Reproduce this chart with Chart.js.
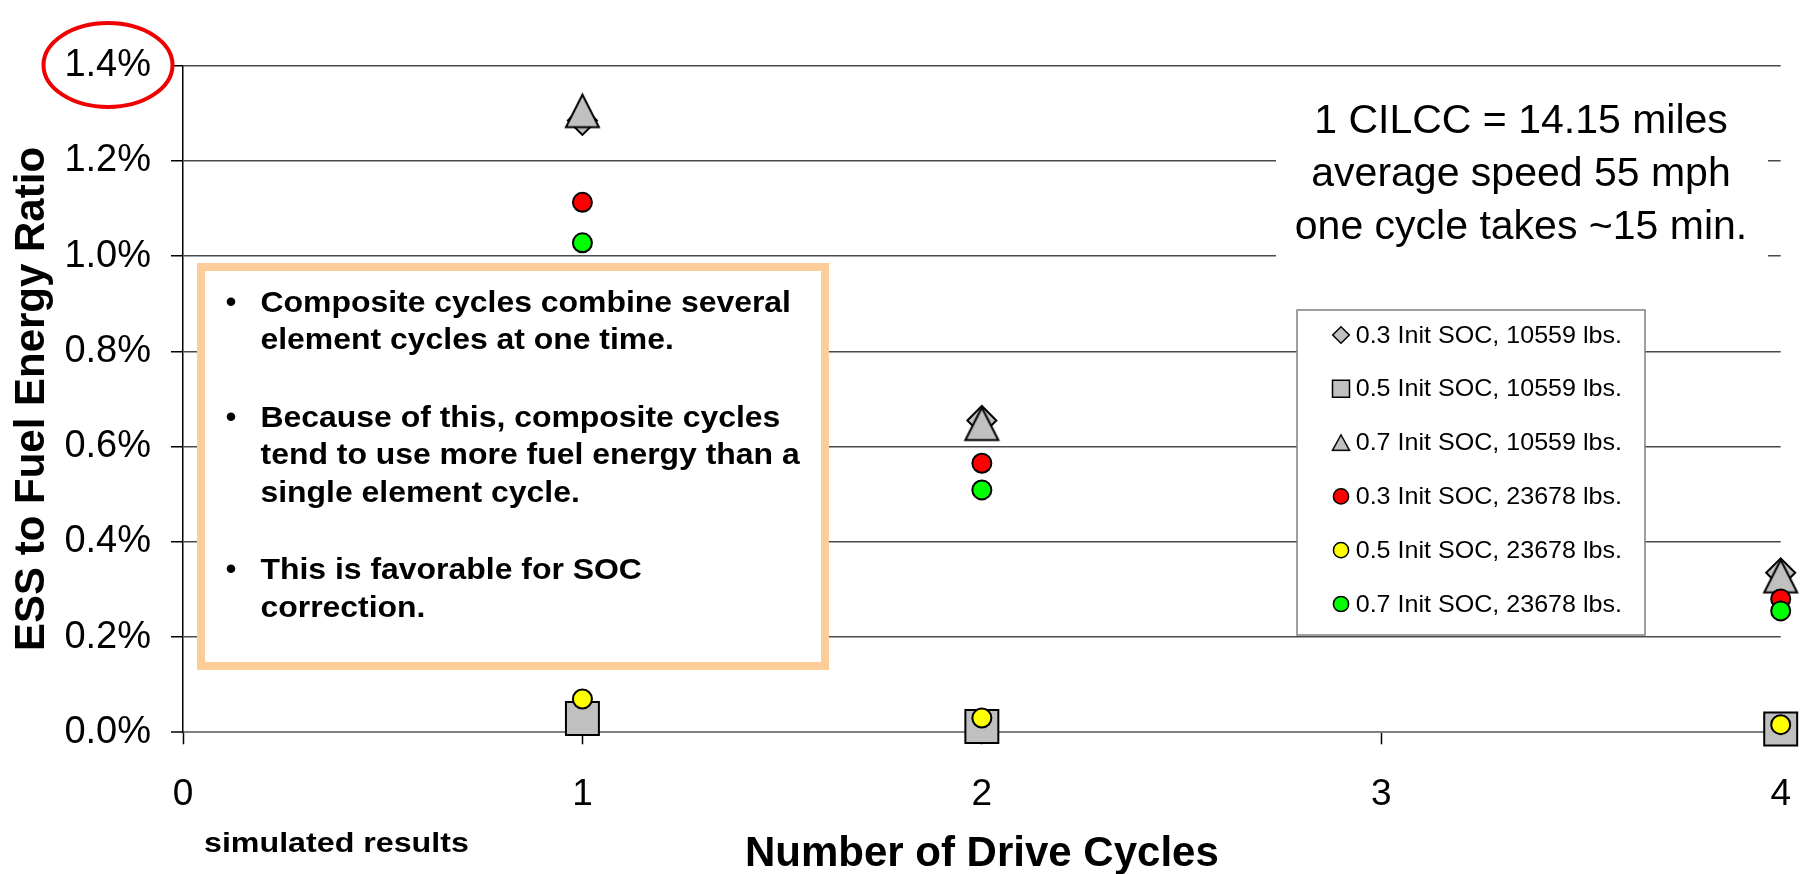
<!DOCTYPE html>
<html>
<head>
<meta charset="utf-8">
<script src="https://cdn.jsdelivr.net/npm/chart.js@4.4.1/dist/chart.umd.min.js"></script>
<style>
  html, body { margin: 0; padding: 0; background: #ffffff; }
  #wrap { width: 1806px; height: 874px; position: relative; }
</style>
</head>
<body>
<div id="wrap"><canvas id="chart" width="1806" height="874"></canvas></div>
<script>
// Drive-cycle counts and ESS-to-fuel energy ratios (percent)
const cycles = [1, 2, 4];
const soc03Light = [1.285, 0.655, 0.335];
const soc05Light = [0.029, 0.012, 0.007];
const soc07Light = [1.305, 0.648, 0.328];
const soc03Heavy = [1.113, 0.565, 0.280];
const soc05Heavy = [0.070, 0.030, 0.016];
const soc07Heavy = [1.028, 0.509, 0.255];

const seriesLabels = [
  '0.3 Init SOC, 10559 lbs.',
  '0.5 Init SOC, 10559 lbs.',
  '0.7 Init SOC, 10559 lbs.',
  '0.3 Init SOC, 23678 lbs.',
  '0.5 Init SOC, 23678 lbs.',
  '0.7 Init SOC, 23678 lbs.'
];

const yTickValues = [0, 0.2, 0.4, 0.6, 0.8, 1.0, 1.2, 1.4];
const xTickValues = [0, 1, 2, 3, 4];

const cycleNote = ['1 CILCC = 14.15 miles', 'average speed 55 mph', 'one cycle takes ~15 min.'];
const bulletPoints = [
  ['Composite cycles combine several', 'element cycles at one time.'],
  ['Because of this, composite cycles', 'tend to use more fuel energy than a', 'single element cycle.'],
  ['This is favorable for SOC', 'correction.']
];
const footNote = 'simulated results';

const FONT = "'Liberation Sans', Arial, Helvetica, sans-serif";
const GREY = '#c0c0c0';

// Excel-style isosceles triangle marker (centred on its bounding box)
function triangleMarker(w, h, lw) {
  const pad = lw + 2;
  const c = document.createElement('canvas');
  c.width = Math.round(w + 2 * pad);
  c.height = Math.round(h + 2 * pad);
  const g = c.getContext('2d');
  const cx = c.width / 2, top = (c.height - h) / 2;
  g.beginPath();
  g.moveTo(cx, top);
  g.lineTo(cx + w / 2, top + h);
  g.lineTo(cx - w / 2, top + h);
  g.closePath();
  g.fillStyle = GREY;
  g.fill();
  g.lineWidth = lw;
  g.lineJoin = 'miter';
  g.strokeStyle = '#000';
  g.stroke();
  return c;
}
const bigTriangle = triangleMarker(33, 32.5, 2);
const smallTriangle = triangleMarker(17, 15.5, 1.5);

function points(arr) { return cycles.map((x, i) => ({ x: x, y: arr[i] })); }

const seriesValues = [soc03Light, soc05Light, soc07Light, soc03Heavy, soc05Heavy, soc07Heavy];
const seriesStyle = [
  { style: 'rectRot', r: 14.5, fill: GREY, legendStyle: 'rectRot', legendR: 8.3 },
  { style: 'rect', r: 23.3, fill: GREY, legendStyle: 'rect', legendR: 12 },
  { style: bigTriangle, r: 17, fill: GREY, legendStyle: smallTriangle, legendR: 9 },
  { style: 'circle', r: 9.5, fill: '#ff0000', legendStyle: 'circle', legendR: 7.6 },
  { style: 'circle', r: 9.5, fill: '#ffff00', legendStyle: 'circle', legendR: 7.6 },
  { style: 'circle', r: 9.5, fill: '#00ff00', legendStyle: 'circle', legendR: 7.6 }
];

const datasets = seriesValues.map((vals, i) => ({
  label: seriesLabels[i],
  data: points(vals),
  pointStyle: seriesStyle[i].style,
  pointRadius: seriesStyle[i].r,
  pointBackgroundColor: seriesStyle[i].fill,
  pointBorderColor: '#000000',
  pointBorderWidth: 2,
  showLine: false,
  clip: false,
  order: seriesValues.length - i,
  legendStyle: seriesStyle[i].legendStyle,
  legendR: seriesStyle[i].legendR
}));

function stretchedText(ctx, text, x, y, sx) {
  ctx.save();
  ctx.translate(x, y);
  ctx.scale(sx, 1);
  ctx.fillText(text, 0, 0);
  ctx.restore();
}

// Text boxes, legend and highlight ring drawn on top of the grid
const overlays = {
  id: 'overlays',
  beforeDatasetsDraw(chart) {
    const ctx = chart.ctx;
    ctx.save();

    // bullet box
    ctx.fillStyle = '#ffffff';
    ctx.fillRect(197, 263, 632, 407);
    ctx.strokeStyle = '#fccc99';
    ctx.lineWidth = 8;
    ctx.strokeRect(201, 267, 624, 399);
    ctx.fillStyle = '#000';
    ctx.font = 'bold 30px ' + FONT;
    ctx.textBaseline = 'alphabetic';
    let base = 311.7;
    bulletPoints.forEach((para) => {
      ctx.textAlign = 'center';
      ctx.fillText('\u2022', 231, base);
      ctx.textAlign = 'left';
      para.forEach((line) => {
        stretchedText(ctx, line, 260.5, base, 1.064);
        base += 37.7;
      });
      base += 39.5;
    });

    // cycle description
    ctx.fillStyle = '#ffffff';
    ctx.fillRect(1276, 72, 492, 194);
    ctx.fillStyle = '#000';
    ctx.font = '41px ' + FONT;
    ctx.textAlign = 'center';
    [133, 186, 239].forEach((b, i) => ctx.fillText(cycleNote[i], 1521, b));

    // legend
    ctx.fillStyle = '#ffffff';
    ctx.fillRect(1297, 310, 348, 325);
    ctx.strokeStyle = '#808080';
    ctx.lineWidth = 1.5;
    ctx.strokeRect(1297, 310, 348, 325);
    ctx.font = '24px ' + FONT;
    ctx.textAlign = 'left';
    ctx.textBaseline = 'middle';
    chart.data.datasets.forEach((ds, i) => {
      const y = 335 + i * 53.8;
      ctx.fillStyle = ds.pointBackgroundColor;
      ctx.strokeStyle = '#000';
      ctx.lineWidth = 1.5;
      Chart.helpers.drawPoint(ctx, { pointStyle: ds.legendStyle, radius: ds.legendR, borderWidth: 1.5, rotation: 0 }, 1341, y);
      ctx.fillStyle = '#000';
      stretchedText(ctx, ds.label, 1355.7, y + 1, 1.045);
    });

    // foot note
    ctx.textBaseline = 'alphabetic';
    ctx.font = 'bold 28px ' + FONT;
    ctx.fillStyle = '#000';
    stretchedText(ctx, footNote, 204, 852, 1.15);

    // ring round the top tick label
    ctx.beginPath();
    ctx.ellipse(108, 65, 64.5, 42, 0, 0, Math.PI * 2);
    ctx.strokeStyle = '#f00000';
    ctx.lineWidth = 4;
    ctx.stroke();
    ctx.restore();
  }
};

new Chart(document.getElementById('chart'), {
  type: 'scatter',
  data: { datasets: datasets },
  options: {
    responsive: false,
    animation: false,
    events: [],
    layout: { padding: { left: 0, right: 24, top: 65.7, bottom: 0 } },
    plugins: { legend: { display: false }, tooltip: { enabled: false } },
    scales: {
      x: {
        type: 'linear', min: 0, max: 4,
        afterBuildTicks: s => { s.ticks = xTickValues.map(v => ({ value: v })); },
        afterFit: s => { s.height = 141.7; s.paddingLeft = 12; s.paddingRight = 12; },
        ticks: { font: { family: FONT, size: 37 }, color: '#000', padding: 28, maxRotation: 0, autoSkip: false,
                 callback: v => String(v) },
        grid: { drawOnChartArea: false, drawTicks: true, tickLength: 12, tickColor: '#000', tickWidth: 1.5 },
        border: { color: '#808080', width: 2 },
        title: { display: true, text: 'Number of Drive Cycles', color: '#000',
                 font: { family: FONT, size: 42, weight: 'bold', lineHeight: 0.93 }, padding: { top: 0, bottom: 0 } }
      },
      y: {
        type: 'linear', min: 0, max: 1.4,
        afterBuildTicks: s => { s.ticks = yTickValues.map(v => ({ value: v })); },
        afterFit: s => { s.width = 183; },
        ticks: { font: { family: FONT, size: 38 }, color: '#000', padding: 20,
                 callback: v => Number(v).toFixed(1) + '%' },
        grid: {
          color: c => (c.tick && c.tick.value === 0) ? '#808080' : '#4a4a4a',
          lineWidth: c => (c.tick && c.tick.value === 0) ? 2 : 1.5,
          drawTicks: true, tickLength: 12, tickColor: '#000', tickWidth: 1.5
        },
        border: { color: '#000', width: 1.5 },
        title: { display: true, text: 'ESS to Fuel Energy Ratio', color: '#000',
                 font: { family: FONT, size: 42, weight: 'bold' }, padding: { top: 7, bottom: 0 } }
      }
    }
  },
  plugins: [overlays]
});
</script>
</body>
</html>
